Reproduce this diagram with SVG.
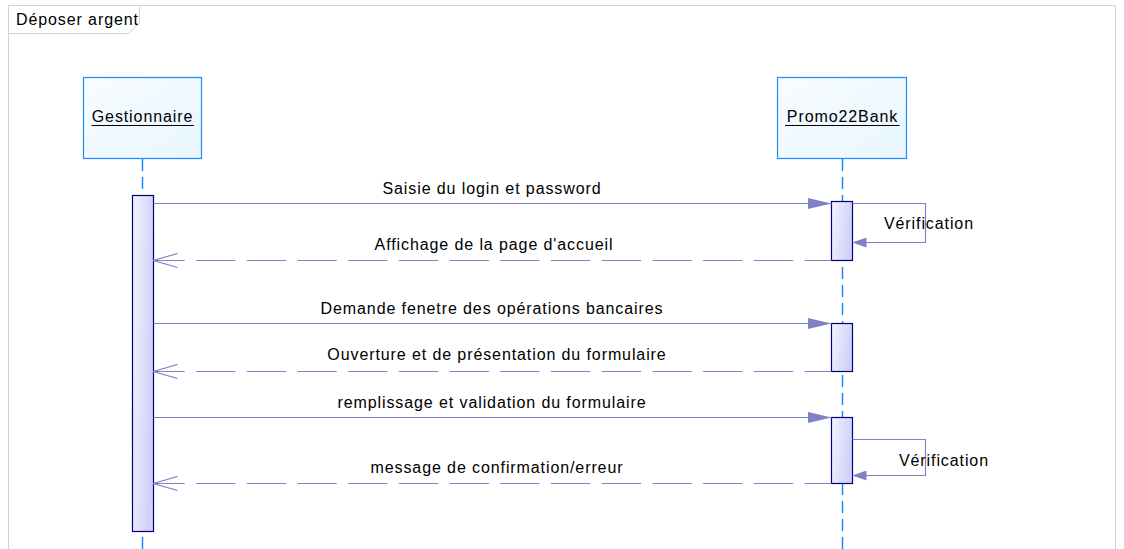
<svg xmlns="http://www.w3.org/2000/svg" width="1124" height="549" viewBox="0 0 1124 549">
<defs>
<linearGradient id="boxFill" x1="0" y1="0" x2="1" y2="1">
<stop offset="0" stop-color="#f8fcff"/>
<stop offset="1" stop-color="#e8f6ff"/>
</linearGradient>
<linearGradient id="actFill" x1="0" y1="0" x2="1" y2="0.3">
<stop offset="0" stop-color="#f4f4ff"/>
<stop offset="1" stop-color="#d0d0f8"/>
</linearGradient>
<marker id="filled" viewBox="0 0 24 12" refX="24" refY="6" markerWidth="24" markerHeight="12" markerUnits="userSpaceOnUse" orient="auto">
<path d="M0,0.5 L24,6 L0,11.5 Z" fill="#8080c4"/>
</marker>
<marker id="filledSmall" viewBox="0 0 14 10" refX="14" refY="5" markerWidth="14" markerHeight="10" markerUnits="userSpaceOnUse" orient="auto">
<path d="M0,0 L14,5 L0,10 Z" fill="#8080c4"/>
</marker>
<marker id="open" viewBox="0 0 26 16" refX="25" refY="8" markerWidth="26" markerHeight="16" markerUnits="userSpaceOnUse" orient="auto">
<path d="M1,1 L25,8 L1,15" fill="none" stroke="#8080c4" stroke-width="1.2"/>
</marker>
</defs>
<style>
text { font-family: "Liberation Sans", Arial, sans-serif; font-size: 16px; fill: #000; letter-spacing: 0.9px; }
.frame { fill: none; stroke: #cfcfe6; stroke-width: 1; }
.lifebox { fill: url(#boxFill); stroke: #1a8cff; stroke-width: 1.2; }
.lifeline { stroke: #0a84ff; stroke-width: 1.4; stroke-dasharray: 12 6; fill: none; }
.act { fill: url(#actFill); stroke: #000080; stroke-width: 1.2; }
.msg { stroke: #8080c4; stroke-width: 1.2; fill: none; }
.ret { stroke: #8080c4; stroke-width: 1.2; fill: none; stroke-dasharray: 39.3 11.4; stroke-dashoffset: 12.3; }
.ul { stroke: #000; stroke-width: 1; }
.c { text-anchor: middle; }
</style>
<rect x="0" y="0" width="1124" height="549" fill="#ffffff"/>
<g id="frame">
<path class="frame" d="M8.5,560 L8.5,5.5 L1115.5,5.5 L1115.5,560"/>
<path class="frame" d="M8.5,33.5 L128.5,33.5 L139.5,23 L139.5,5.5"/>
<text x="16" y="25">Déposer argent</text>
</g>
<g id="gestionnaire">
<line class="lifeline" x1="142.5" y1="159" x2="142.5" y2="549"/>
<rect class="lifebox" x="83.5" y="77.5" width="118" height="81"/>
<text class="c" x="142.5" y="122">Gestionnaire</text>
<line class="ul" x1="91.5" y1="125.5" x2="194" y2="125.5"/>
<rect class="act" x="132.5" y="195.5" width="21" height="336"/>
</g>
<g id="promo22bank">
<line class="lifeline" x1="842.5" y1="159" x2="842.5" y2="549"/>
<rect class="lifebox" x="777.5" y="77.5" width="129" height="81"/>
<text class="c" x="842.5" y="122">Promo22Bank</text>
<line class="ul" x1="785" y1="125.5" x2="899.5" y2="125.5"/>
<rect class="act" x="831.5" y="201.5" width="21" height="59"/>
<rect class="act" x="831.5" y="323.5" width="21" height="48"/>
<rect class="act" x="831.5" y="417.5" width="21" height="66"/>
</g>
<g id="connectors">
<line class="msg" x1="153.5" y1="203.5" x2="831.5" y2="203.5" marker-end="url(#filled)"/>
<path class="msg" d="M852.5,203.5 L925.5,203.5 L925.5,242.5 L852.5,242.5" marker-end="url(#filledSmall)"/>
<line class="ret" x1="831.5" y1="260.5" x2="153.5" y2="260.5" marker-end="url(#open)"/>
<line class="msg" x1="153.5" y1="323.5" x2="831.5" y2="323.5" marker-end="url(#filled)"/>
<line class="ret" x1="831.5" y1="371.5" x2="153.5" y2="371.5" marker-end="url(#open)"/>
<line class="msg" x1="153.5" y1="417.5" x2="831.5" y2="417.5" marker-end="url(#filled)"/>
<path class="msg" d="M852.5,439.5 L925.5,439.5 L925.5,475.5 L852.5,475.5" marker-end="url(#filledSmall)"/>
<line class="ret" x1="831.5" y1="483.5" x2="153.5" y2="483.5" marker-end="url(#open)"/>
</g>
<g id="labels">
<text class="c" x="492" y="194">Saisie du login et password</text>
<text x="884" y="229">Vérification</text>
<text class="c" x="494" y="250">Affichage de la page d'accueil</text>
<text class="c" x="492" y="314">Demande fenetre des opérations bancaires</text>
<text class="c" x="497" y="360">Ouverture et de présentation du formulaire</text>
<text class="c" x="492" y="408">remplissage et validation du formulaire</text>
<text x="899" y="466">Vérification</text>
<text class="c" x="497" y="473">message de confirmation/erreur</text>
</g>
</svg>
